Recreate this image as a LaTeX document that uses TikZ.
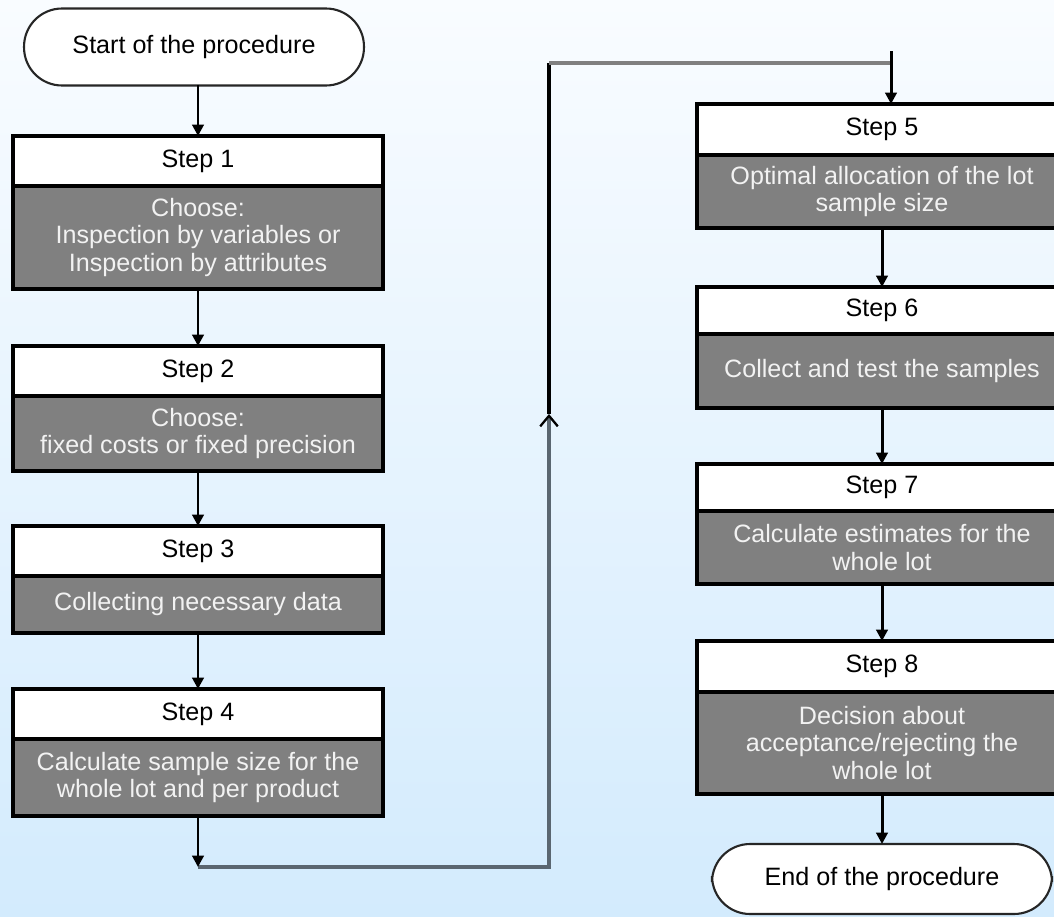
\documentclass[tikz,border=0pt]{standalone}
\usepackage{fontspec}
\setmainfont{Liberation Sans}
\usetikzlibrary{positioning,arrows.meta}

\definecolor{boxgray}{HTML}{808080}
\definecolor{boxtext}{HTML}{F2F2F2}
\definecolor{bgtop}{HTML}{F9FCFF}
\definecolor{bgbottom}{HTML}{D3EBFD}
\definecolor{routegray}{HTML}{808080}
\definecolor{routeslate}{HTML}{5A6670}

\begin{document}
\begin{tikzpicture}
        [x=0.02cm,y=-0.02cm,>={Triangle[width=6.5pt,length=6.5pt]},
         every node/.style={font=\fontsize{14.3}{15.8}\selectfont,align=center,inner sep=0pt,outer sep=0pt},
         term/.style={draw=black!85,line width=1.2pt,fill=white,rounded corners=0.76cm,minimum width=6.8cm,minimum height=1.54cm},
         head/.style={draw,line width=1.9pt,fill=white,minimum width=7.4cm,minimum height=1cm},
         body/.style={draw,line width=1.9pt,fill=boxgray,text=boxtext,minimum width=7.4cm},
         flow/.style={->,line width=1.7pt},
         route/.style={line width=2.1pt}]

        \useasboundingbox (0,0) rectangle (1054,916);
        \clip (0,0) rectangle (1054,916);
        \shade[top color=bgtop,bottom color=bgbottom] (0,0) rectangle (1054,916);

        % left column
        \node[term] (start) at (194,47) {Start of the procedure};

        \node[head] (s1h) at (198,161) {Step 1};
        \node[body,minimum height=2.06cm,below=0pt of s1h] (s1b) {Choose:\\Inspection by variables or\\Inspection by attributes};

        \node[head] (s2h) at (198,371) {Step 2};
        \node[body,minimum height=1.5cm,below=0pt of s2h] (s2b) {Choose:\\fixed costs or fixed precision};

        \node[head] (s3h) at (198,551) {Step 3};
        \node[body,minimum height=1.14cm,below=0pt of s3h] (s3b) {Collecting necessary data};

        \node[head] (s4h) at (198,714) {Step 4};
        \node[body,minimum height=1.54cm,below=0pt of s4h] (s4b) {Calculate sample size for the\\whole lot and per product};

        % right column
        \node[head,minimum height=1.02cm] (s5h) at (882,129.5) {Step 5};
        \node[body,minimum height=1.46cm,below=0pt of s5h] (s5b) {Optimal allocation of the lot\\sample size};

        \node[head,minimum height=0.94cm] (s6h) at (882,310.5) {Step 6};
        \node[body,minimum height=1.48cm,below=0pt of s6h] (s6b) {Collect and test the samples};

        \node[head,minimum height=0.94cm] (s7h) at (882,487.5) {Step 7};
        \node[body,minimum height=1.46cm,below=0pt of s7h] (s7b) {Calculate estimates for the\\whole lot};

        \node[head,minimum height=1.02cm] (s8h) at (882,666.5) {Step 8};
        \node[body,minimum height=2.04cm,below=0pt of s8h] (s8b) {Decision about\\acceptance/rejecting the\\whole lot};

        \node[term,minimum height=1.4cm] (end) at (882,879) {End of the procedure};

        % route between the columns
        \coordinate (c1) at (198,867);
        \coordinate (c2) at (549,867);
        \coordinate (c3) at (549,414);
        \coordinate (c4) at (549,63);
        \coordinate (c5) at (891,63);
        \coordinate (c6) at (891,51);

        \draw[flow] (s1h.north |- start.south) -- (s1h.north);
        \draw[flow] (s1b) -- (s2h);
        \draw[flow] (s2b) -- (s3h);
        \draw[flow] (s3b) -- (s4h);
        \draw[route,routeslate,-{Straight Barb[width=10pt,length=6pt,line width=1.3pt,color=black]}] (c1) -- (c2) -- (c3);
        \draw[route] (c3) -- (c4);
        \draw[route,routegray] (c4) -- (c5);
        \draw[flow] (s4b) -- (c1);
        \draw[flow] (c6) -- (c6 |- s5h.north);
        \draw[flow] (s5b) -- (s6h);
        \draw[flow] (s6b) -- (s7h);
        \draw[flow] (s7b) -- (s8h);
        \draw[flow] (s8b) -- (end);

    \end{tikzpicture}
\end{document}
